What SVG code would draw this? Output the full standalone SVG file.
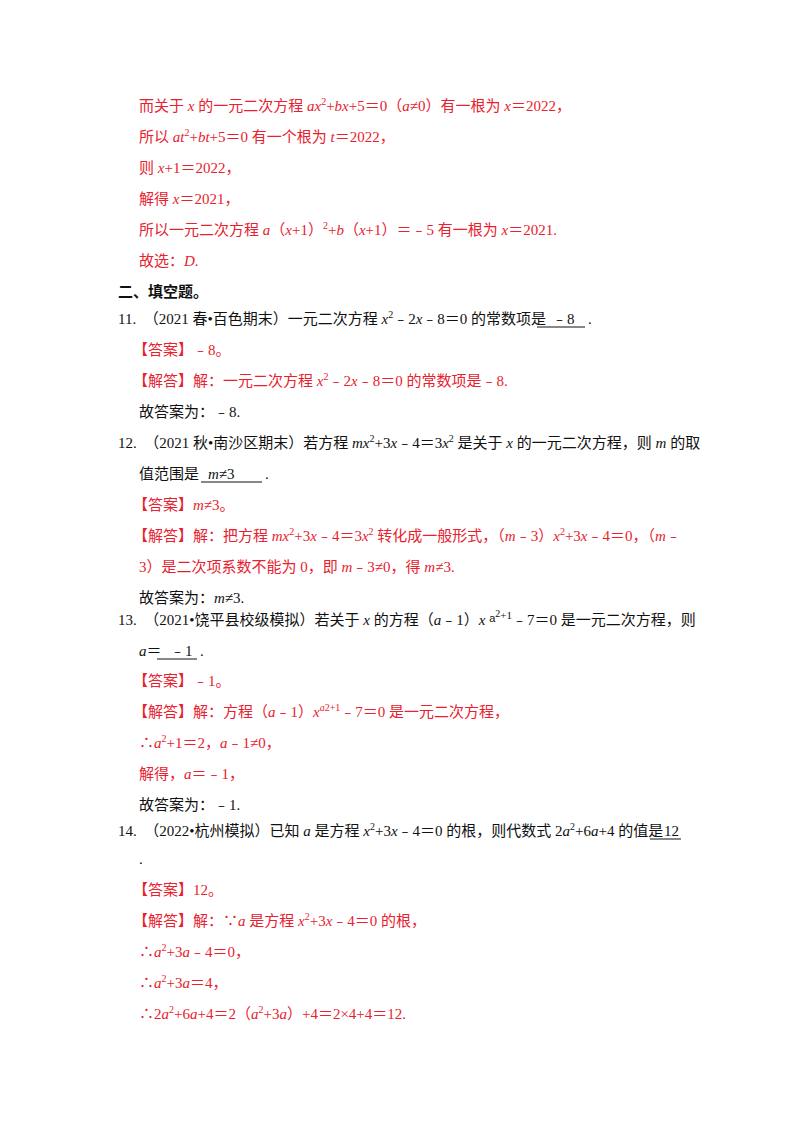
<svg xmlns="http://www.w3.org/2000/svg" width="800" height="1132" viewBox="0 0 800 1132">
<style>
text{font-family:"Liberation Serif","Noto Sans CJK SC",serif;font-size:15px;fill:#111}
.r{fill:#e8212e}
.i{font-style:italic}
.b{font-weight:bold}
.s{font-size:10px}
line{stroke:#111;stroke-width:1}
</style>
<rect width="800" height="1132" fill="#fff"/>
<g id="solution10">
<text class="r" x="139" y="111">而关于 <tspan class="i">x</tspan> 的一元二次方程 <tspan class="i">ax</tspan><tspan class="s" dy="-6">2</tspan><tspan dy="6">+</tspan><tspan class="i">bx</tspan>+5＝0（<tspan class="i">a</tspan>≠0）有一根为 <tspan class="i">x</tspan>＝2022，</text>
<text class="r" x="139" y="142">所以 <tspan class="i">at</tspan><tspan class="s" dy="-6">2</tspan><tspan dy="6">+</tspan><tspan class="i">bt</tspan>+5＝0 有一个根为 <tspan class="i">t</tspan>＝2022，</text>
<text class="r" x="139" y="173">则 <tspan class="i">x</tspan>+1＝2022，</text>
<text class="r" x="139" y="204">解得 <tspan class="i">x</tspan>＝2021，</text>
<text class="r" x="139" y="235">所以一元二次方程 <tspan class="i">a</tspan>（<tspan class="i">x</tspan>+1）<tspan class="s" dy="-6">2</tspan><tspan dy="6">+</tspan><tspan class="i">b</tspan>（<tspan class="i">x</tspan>+1）＝﹣5 有一根为 <tspan class="i">x</tspan>＝2021.</text>
<text class="r" x="139" y="266">故选：<tspan class="i">D</tspan>.</text>
</g>
<g id="section"><text class="b" x="118" y="297">二、填空题。</text></g>
<g id="q11">
<text x="118" y="324">11.　（2021 春•百色期末）一元二次方程 <tspan class="i">x</tspan><tspan class="s" dy="-6">2</tspan><tspan dy="6">﹣2</tspan><tspan class="i">x</tspan>﹣8＝0 的常数项是</text>
<text x="552" y="324">﹣8</text><text x="588" y="324">.</text>
<line x1="537" y1="327" x2="585" y2="327"/>
<text class="r" x="133" y="355">【答案】﹣8。</text>
<text class="r" x="133" y="386">【解答】解：一元二次方程 <tspan class="i">x</tspan><tspan class="s" dy="-6">2</tspan><tspan dy="6">﹣2</tspan><tspan class="i">x</tspan>﹣8＝0 的常数项是﹣8.</text>
<text x="139" y="417">故答案为：﹣8.</text>
</g>
<g id="q12">
<text x="118" y="448">12.　（2021 秋•南沙区期末）若方程 <tspan class="i">mx</tspan><tspan class="s" dy="-6">2</tspan><tspan dy="6">+3</tspan><tspan class="i">x</tspan>﹣4＝3<tspan class="i">x</tspan><tspan class="s" dy="-6">2</tspan><tspan dy="6"> 是关于 </tspan><tspan class="i">x</tspan> 的一元二次方程，则 <tspan class="i">m</tspan> 的取</text>
<text x="139" y="479">值范围是</text><text x="208" y="479"><tspan class="i">m</tspan>≠3</text><text x="265" y="479">.</text>
<line x1="201" y1="482" x2="262" y2="482"/>
<text class="r" x="133" y="510">【答案】<tspan class="i">m</tspan>≠3。</text>
<text class="r" x="133" y="541">【解答】解：把方程 <tspan class="i">mx</tspan><tspan class="s" dy="-6">2</tspan><tspan dy="6">+3</tspan><tspan class="i">x</tspan>﹣4＝3<tspan class="i">x</tspan><tspan class="s" dy="-6">2</tspan><tspan dy="6"> 转化成一般形式，（</tspan><tspan class="i">m</tspan>﹣3）<tspan class="i">x</tspan><tspan class="s" dy="-6">2</tspan><tspan dy="6">+3</tspan><tspan class="i">x</tspan>﹣4＝0，（<tspan class="i">m</tspan>﹣</text>
<text class="r" x="139" y="572">3）是二次项系数不能为 0，即 <tspan class="i">m</tspan>﹣3≠0，得 <tspan class="i">m</tspan>≠3.</text>
<text x="139" y="603">故答案为：<tspan class="i">m</tspan>≠3.</text>
</g>
<g id="q13">
<text x="118" y="625">13.　（2021•饶平县校级模拟）若关于 <tspan class="i">x</tspan> 的方程（<tspan class="i">a</tspan>﹣1）<tspan class="i">x</tspan> <tspan font-family="Liberation Sans,sans-serif" font-size="11" dy="-3">a</tspan><tspan class="s" dy="-5">2</tspan><tspan font-size="11" dy="2">+1</tspan><tspan dy="6">﹣7＝0 是一元二次方程，则</tspan></text>
<text x="139" y="656"><tspan class="i">a</tspan>＝</text><text x="170" y="656">﹣1</text><text x="200" y="656">.</text>
<line x1="157" y1="659" x2="197" y2="659"/>
<text class="r" x="133" y="686">【答案】﹣1。</text>
<text class="r" x="133" y="717">【解答】解：方程（<tspan class="i">a</tspan>﹣1）<tspan class="i">x</tspan><tspan class="s i" dy="-6">a</tspan><tspan class="s" font-size="8">2</tspan><tspan class="s">+1</tspan><tspan dy="6">﹣7＝0 是一元二次方程，</tspan></text>
<text class="r" x="139" y="748">∴<tspan class="i">a</tspan><tspan class="s" dy="-6">2</tspan><tspan dy="6">+1＝2，</tspan><tspan class="i">a</tspan>﹣1≠0，</text>
<text class="r" x="139" y="779">解得，<tspan class="i">a</tspan>＝﹣1，</text>
<text x="139" y="810">故答案为：﹣1.</text>
</g>
<g id="q14">
<text x="118" y="836">14.　（2022•杭州模拟）已知 <tspan class="i">a</tspan> 是方程 <tspan class="i">x</tspan><tspan class="s" dy="-6">2</tspan><tspan dy="6">+3</tspan><tspan class="i">x</tspan>﹣4＝0 的根，则代数式 2<tspan class="i">a</tspan><tspan class="s" dy="-6">2</tspan><tspan dy="6">+6</tspan><tspan class="i">a</tspan>+4 的值是</text>
<text x="664" y="836">12</text>
<line x1="650" y1="839" x2="681" y2="839"/>
<text x="139" y="864">.</text>
<text class="r" x="133" y="895">【答案】12。</text>
<text class="r" x="133" y="926">【解答】解：∵<tspan class="i">a</tspan> 是方程 <tspan class="i">x</tspan><tspan class="s" dy="-6">2</tspan><tspan dy="6">+3</tspan><tspan class="i">x</tspan>﹣4＝0 的根，</text>
<text class="r" x="139" y="957">∴<tspan class="i">a</tspan><tspan class="s" dy="-6">2</tspan><tspan dy="6">+3</tspan><tspan class="i">a</tspan>﹣4＝0，</text>
<text class="r" x="139" y="988">∴<tspan class="i">a</tspan><tspan class="s" dy="-6">2</tspan><tspan dy="6">+3</tspan><tspan class="i">a</tspan>＝4，</text>
<text class="r" x="139" y="1019">∴2<tspan class="i">a</tspan><tspan class="s" dy="-6">2</tspan><tspan dy="6">+6</tspan><tspan class="i">a</tspan>+4＝2（<tspan class="i">a</tspan><tspan class="s" dy="-6">2</tspan><tspan dy="6">+3</tspan><tspan class="i">a</tspan>）+4＝2×4+4＝12.</text>
</g>
</svg>
